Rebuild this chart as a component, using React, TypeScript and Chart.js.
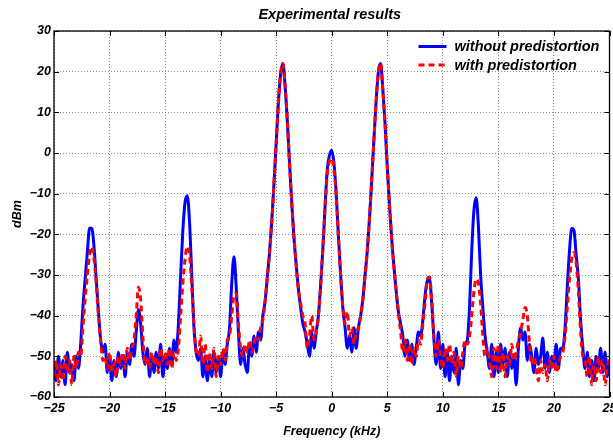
import React, { useEffect, useRef } from 'react';
import { Chart, registerables } from 'chart.js';

Chart.register(...registerables);

const titleText = 'Experimental results';
const xAxisLabel = 'Frequency (kHz)';
const yAxisLabel = 'dBm';
const seriesLabels = ['without predistortion', 'with predistortion'];

const xTickValues = [-25, -20, -15, -10, -5, 0, 5, 10, 15, 20, 25];
const yTickValues = [-60, -50, -40, -30, -20, -10, 0, 10, 20, 30];

const freqKHz = [
  -25, -24.8, -24.6, -24.4, -24.2, -24, -23.8, -23.6, -23.4, -23.2,
  -23, -22.8, -22.6, -22.4, -22.2, -22, -21.8, -21.6, -21.4, -21.2,
  -21, -20.8, -20.6, -20.4, -20.2, -20, -19.8, -19.6, -19.4, -19.2,
  -19, -18.8, -18.6, -18.4, -18.2, -18, -17.8, -17.6, -17.4, -17.2,
  -17, -16.8, -16.6, -16.4, -16.2, -16, -15.8, -15.6, -15.4, -15.2,
  -15, -14.8, -14.6, -14.4, -14.2, -14, -13.8, -13.6, -13.4, -13.2,
  -13, -12.8, -12.6, -12.4, -12.2, -12, -11.8, -11.6, -11.4, -11.2,
  -11, -10.8, -10.6, -10.4, -10.2, -10, -9.8, -9.6, -9.4, -9.2,
  -9, -8.8, -8.6, -8.4, -8.2, -8, -7.8, -7.6, -7.4, -7.2,
  -7, -6.8, -6.6, -6.4, -6.2, -6, -5.8, -5.6, -5.4, -5.2,
  -5, -4.8, -4.6, -4.4, -4.2, -4, -3.8, -3.6, -3.4, -3.2,
  -3, -2.8, -2.6, -2.4, -2.2, -2, -1.8, -1.6, -1.4, -1.2,
  -1, -0.8, -0.6, -0.4, -0.2, 0, 0.2, 0.4, 0.6, 0.8,
  1, 1.2, 1.4, 1.6, 1.8, 2, 2.2, 2.4, 2.6, 2.8,
  3, 3.2, 3.4, 3.6, 3.8, 4, 4.2, 4.4, 4.6, 4.8,
  5, 5.2, 5.4, 5.6, 5.8, 6, 6.2, 6.4, 6.6, 6.8,
  7, 7.2, 7.4, 7.6, 7.8, 8, 8.2, 8.4, 8.6, 8.8,
  9, 9.2, 9.4, 9.6, 9.8, 10, 10.2, 10.4, 10.6, 10.8,
  11, 11.2, 11.4, 11.6, 11.8, 12, 12.2, 12.4, 12.6, 12.8,
  13, 13.2, 13.4, 13.6, 13.8, 14, 14.2, 14.4, 14.6, 14.8,
  15, 15.2, 15.4, 15.6, 15.8, 16, 16.2, 16.4, 16.6, 16.8,
  17, 17.2, 17.4, 17.6, 17.8, 18, 18.2, 18.4, 18.6, 18.8,
  19, 19.2, 19.4, 19.6, 19.8, 20, 20.2, 20.4, 20.6, 20.8,
  21, 21.2, 21.4, 21.6, 21.8, 22, 22.2, 22.4, 22.6, 22.8,
  23, 23.2, 23.4, 23.6, 23.8, 24, 24.2, 24.4, 24.6, 24.8,
  25,
];

const withoutPredistortion = [
  -52, -56, -50, -55, -51, -57, -49, -54, -52, -56,
  -50, -53, -47, -38, -31, -24.5, -18.5, -18.5, -23, -31,
  -39, -46, -49, -47, -54, -50, -56, -51, -55, -49,
  -53, -50, -55, -49, -52, -47, -50, -44, -38.5, -42,
  -49, -52, -48, -55, -50, -54, -49, -53, -47, -55,
  -50, -53, -48, -52, -46, -49, -42, -30, -19, -12,
  -10.5, -17, -30, -43, -49, -51, -48, -55, -50, -56,
  -51, -55, -49, -54, -50, -55, -49, -52, -47, -43,
  -32, -25.5, -33, -44, -52, -48, -52, -54, -47, -50,
  -45, -49, -44, -46, -40, -36.5, -30.5, -24.5, -16.8, -7.5,
  2.5, 12.5, 19.5, 22, 16.5, 8, -2.5, -12.3, -20.8, -27.5,
  -33.5, -38, -42, -44, -47, -50, -44, -48, -44, -40,
  -32.5, -23.5, -13, -4, -0.5, 0.7, -2.5, -10, -20.5, -30,
  -38, -43, -48, -45, -49, -43, -48, -43, -40, -36,
  -30, -24, -16, -6.5, 3.5, 13, 20, 22, 15.5, 7,
  -3.5, -13, -21.3, -28, -34, -39, -42, -45, -50, -46,
  -51, -47, -52, -48, -44, -45, -41, -35, -31.5, -31,
  -37, -46, -52, -44, -53, -47, -55, -49, -56, -50,
  -54, -48, -57, -51, -53, -47, -46, -38, -24, -14,
  -11, -18, -30, -38, -45, -49, -53, -47, -55, -49,
  -54, -47, -52, -48, -55, -49, -53, -50, -57, -48,
  -43, -46, -44, -51, -47, -50, -54, -48, -52, -50,
  -45.5, -53, -49, -54, -50, -52, -47, -53, -48, -48,
  -43, -33, -24, -18.5, -19, -25, -31, -41, -48, -53,
  -49, -55, -51, -56, -50, -53, -48, -54, -49, -55,
  -52,
];

const withPredistortion = [
  -55, -51, -57, -52, -56, -50, -54, -51, -57, -50,
  -53, -49, -50, -43, -36, -30, -25, -23, -26, -32,
  -40, -46, -51, -50, -53, -49, -54, -51, -55, -50,
  -52, -49, -53, -48, -51, -48, -46, -40, -33, -36,
  -45, -52, -50, -53, -49, -52, -50, -54, -48, -51,
  -49, -52, -48, -53, -49, -51, -48, -40, -32, -26,
  -23, -25, -33, -42, -49, -50, -45, -52, -47, -54,
  -49, -53, -48, -55, -50, -52, -48, -51, -46, -45,
  -40, -35, -34.5, -42, -48, -50, -47, -49, -46, -49,
  -47, -45, -46, -43, -41, -36.5, -30.5, -24.5, -17, -7.5,
  2.5, 12.5, 19.5, 22, 16.5, 8, -2.5, -12.3, -20.8, -27.5,
  -33.5, -37, -40, -42, -48, -45, -40, -46, -44, -40,
  -32.5, -23.5, -13.5, -5, -2, -1.3, -4, -10.5, -20.5, -30,
  -38, -42, -39, -45, -43, -47, -44, -43, -40, -36,
  -30, -24, -16, -6.5, 3.5, 13, 20, 22, 15.5, 7,
  -3.5, -13, -21.3, -28, -34, -39.5, -44, -49, -46, -51,
  -47, -52, -48, -50, -46, -47, -42, -37, -31, -30.5,
  -36, -45, -50, -46, -50, -53, -48, -51, -47, -52,
  -49, -55, -50, -53, -49, -46, -47, -45, -40, -34,
  -31, -32, -37, -45, -50, -48, -51, -55, -48, -53,
  -47, -54, -49, -55, -50, -52, -47, -51, -49, -46,
  -44, -41, -38, -40, -47, -52, -50, -53, -56, -51,
  -54, -52, -56, -51, -53, -50, -54, -52, -50, -49,
  -45, -38, -31, -26, -24.5, -27, -34, -44, -50, -51,
  -55, -50, -57, -52, -56, -50, -54, -51, -57, -53,
  -50,
];

const FONT = '"Liberation Sans", Arial, Helvetica, sans-serif';
const fmt = (v: number) => (v < 0 ? '\u2212' + Math.abs(v) : String(v));

const decorPlugin = {
  id: 'decor',
  beforeDraw(chart: any) {
    const { ctx, width, height } = chart;
    ctx.save();
    ctx.fillStyle = '#ffffff';
    ctx.fillRect(0, 0, width, height);
    ctx.restore();
  },
  afterDraw(chart: any) {
    const { ctx, chartArea: a, scales } = chart;
    const xs = scales.x;
    const ys = scales.y;
    ctx.save();
    // frame
    ctx.strokeStyle = '#000';
    ctx.lineWidth = 1.3;
    ctx.strokeRect(a.left, a.top, a.right - a.left, a.bottom - a.top);
    // inner ticks
    ctx.lineWidth = 1;
    const tl = 5;
    ctx.beginPath();
    xTickValues.forEach((v) => {
      const px = Math.round(xs.getPixelForValue(v)) + 0.5;
      ctx.moveTo(px, a.bottom);
      ctx.lineTo(px, a.bottom - tl);
      ctx.moveTo(px, a.top);
      ctx.lineTo(px, a.top + tl);
    });
    yTickValues.forEach((v) => {
      const py = Math.round(ys.getPixelForValue(v)) + 0.5;
      ctx.moveTo(a.left, py);
      ctx.lineTo(a.left + tl, py);
      ctx.moveTo(a.right, py);
      ctx.lineTo(a.right - tl, py);
    });
    ctx.stroke();

    // title
    ctx.fillStyle = '#000';
    ctx.font = 'italic bold 14.5px ' + FONT;
    ctx.textAlign = 'center';
    ctx.textBaseline = 'middle';
    ctx.fillText(titleText, (a.left + a.right) / 2 - 2, 15);

    // legend
    const lx0 = a.right - 191;
    const lx1 = a.right - 163;
    const tx = a.right - 155;
    const rows = [
      { y: a.top + 15.5, color: '#0000ff', dash: [] as number[] },
      { y: a.top + 34, color: '#ff0000', dash: [6, 4] },
    ];
    ctx.font = 'italic bold 14.5px ' + FONT;
    ctx.textAlign = 'left';
    rows.forEach((r, i) => {
      ctx.beginPath();
      ctx.setLineDash(r.dash);
      ctx.strokeStyle = r.color;
      ctx.lineWidth = 3;
      ctx.moveTo(lx0, r.y);
      ctx.lineTo(lx1, r.y);
      ctx.stroke();
      ctx.setLineDash([]);
      ctx.fillStyle = '#000';
      ctx.fillText(seriesLabels[i], tx, r.y + 0.5);
    });
    ctx.restore();
  },
};

export default function App() {
  const canvasRef = useRef<HTMLCanvasElement | null>(null);

  useEffect(() => {
    const canvas = canvasRef.current;
    if (!canvas) return;
    const blue = freqKHz.map((f, i) => ({ x: f, y: withoutPredistortion[i] }));
    const red = freqKHz.map((f, i) => ({ x: f, y: withPredistortion[i] }));

    const chart = new Chart(canvas, {
      type: 'line',
      data: {
        datasets: [
          {
            label: seriesLabels[0],
            data: blue,
            borderColor: '#0000ff',
            borderWidth: 3,
            pointRadius: 0,
            fill: false,
            order: 1,
            cubicInterpolationMode: 'monotone',
            borderJoinStyle: 'round',
          },
          {
            label: seriesLabels[1],
            data: red,
            borderColor: '#ff0000',
            borderWidth: 3,
            borderDash: [6, 4],
            pointRadius: 0,
            fill: false,
            order: 0,
            cubicInterpolationMode: 'monotone',
            borderJoinStyle: 'round',
          },
        ],
      },
      options: {
        animation: false,
        responsive: false,
        devicePixelRatio: 1,
        events: [],
        layout: { padding: { top: 31, right: 3.5, bottom: 0, left: 0 } },
        plugins: {
          legend: { display: false },
          title: { display: false },
          tooltip: { enabled: false },
        },
        scales: {
          x: {
            type: 'linear',
            min: -25,
            max: 25,
            afterBuildTicks: (scale: any) => {
              scale.ticks = xTickValues.map((v) => ({ value: v }));
            },
            afterFit: (scale: any) => {
              scale.height = 46;
              scale.paddingLeft = 0;
              scale.paddingRight = 0;
            },
            border: { display: false },
            grid: {
              color: '#8a8a8a',
              lineWidth: 1,
              drawTicks: false,
            },
            ticks: {
              padding: 4,
              maxRotation: 0,
              autoSkip: false,
              color: '#000',
              font: { family: FONT, size: 12.5, style: 'italic', weight: 'bold' },
              callback: (v: any) => fmt(Number(v)),
            },
            title: {
              display: true,
              text: xAxisLabel,
              color: '#000',
              font: { family: FONT, size: 12.5, style: 'italic', weight: 'bold' },
              padding: { top: 0, bottom: 4 },
            },
          },
          y: {
            type: 'linear',
            min: -60,
            max: 30,
            afterBuildTicks: (scale: any) => {
              scale.ticks = yTickValues.map((v) => ({ value: v }));
            },
            afterFit: (scale: any) => {
              scale.width = 54;
              scale.paddingTop = 0;
              scale.paddingBottom = 0;
            },
            border: { display: false },
            grid: {
              color: '#8a8a8a',
              lineWidth: 1,
              drawTicks: false,
            },
            ticks: {
              padding: 3,
              autoSkip: false,
              color: '#000',
              font: { family: FONT, size: 12.5, style: 'italic', weight: 'bold' },
              callback: (v: any) => fmt(Number(v)),
            },
            title: {
              display: true,
              text: yAxisLabel,
              color: '#000',
              font: { family: FONT, size: 12.5, style: 'italic', weight: 'bold' },
              padding: { top: 10.5, bottom: 0 },
            },
          },
        },
      },
      plugins: [decorPlugin],
    } as any);

    // dotted grid
    (chart.options.scales as any).x.grid.borderDash = [1, 2];
    const xs: any = (chart.options.scales as any).x;
    const ys: any = (chart.options.scales as any).y;
    xs.border = { display: false, dash: [1, 2] };
    ys.border = { display: false, dash: [1, 2] };
    chart.update();

    return () => chart.destroy();
  }, []);

  return (
    <div style={{ position: 'fixed', left: 0, top: 0, width: 613, height: 443, background: '#fff' }}>
      <canvas ref={canvasRef} width={613} height={443} style={{ display: 'block' }} />
    </div>
  );
}
